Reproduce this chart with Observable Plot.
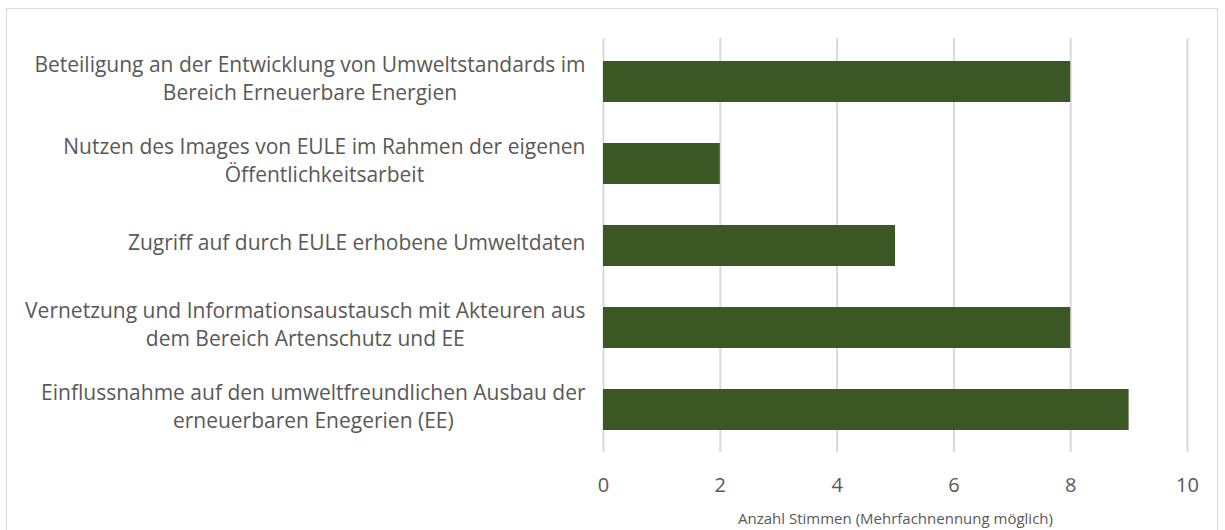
<!DOCTYPE html>
<html><head><meta charset="utf-8">
<script src="https://cdn.jsdelivr.net/npm/d3@7"></script>
<script src="https://cdn.jsdelivr.net/npm/@observablehq/plot@0.6"></script>
<style>
body{margin:0;background:#fff;}
#wrap{position:relative;width:1225px;height:530px;overflow:hidden;}
#border{position:absolute;left:6px;top:8px;width:1212px;height:560px;border:1px solid #d9d9d9;box-sizing:border-box;pointer-events:none;}
</style></head><body><div id="wrap"><div id="border"></div></div>
<script>
const categories = [
  "Beteiligung an der Entwicklung von Umweltstandards im\nBereich Erneuerbare Energien",
  "Nutzen des Images von EULE im Rahmen der eigenen\nÖffentlichkeitsarbeit",
  "Zugriff auf durch EULE erhobene Umweltdaten",
  "Vernetzung und Informationsaustausch mit Akteuren aus\ndem Bereich Artenschutz und EE",
  "Einflussnahme auf den umweltfreundlichen Ausbau der\nerneuerbaren Enegerien (EE)"
];
const values = [8, 2, 5, 8, 9];
const xTicks = [0, 2, 4, 6, 8, 10];
const xLabel = "Anzahl Stimmen (Mehrfachnennung möglich)";

const data = categories.map((c, i) => ({category: c, value: values[i]}));

const chart = Plot.plot({
  width: 1225, height: 530,
  marginLeft: 603, marginRight: 38, marginTop: 38, marginBottom: 78,
  style: {fontFamily: "'Open Sans', sans-serif", color: "#595959", background: "transparent"},
  x: {domain: [0, 10]},
  y: {domain: categories, paddingInner: 0.5, paddingOuter: 0.25},
  marks: [
    Plot.gridX(xTicks, {stroke: "#d9d9d9", strokeOpacity: 1, strokeWidth: 2}),
    Plot.barX(data, {x: "value", y: "category", fill: "#3a5724"}),
    Plot.axisX({ticks: xTicks, tickSize: 0, tickPadding: 25, fontSize: 20, label: xLabel, labelAnchor: "center", labelArrow: "none", labelOffset: 71}),
    Plot.axisY({tickSize: 0, tickPadding: 18, dy: -5, fontSize: 21, lineHeight: 1.33, label: null})
  ]
});
document.getElementById("wrap").appendChild(chart);
d3.select(chart).selectAll('g[aria-label="x-axis label"] text').style("font-size", "15px");
d3.select(chart).selectAll('g[aria-label="y-axis tick label"] text').each(function() {
  const tspans = this.querySelectorAll("tspan");
  if (!tspans.length) return;
  let maxW = 0;
  tspans.forEach(t => { maxW = Math.max(maxW, t.getComputedTextLength()); });
  this.setAttribute("text-anchor", "middle");
  tspans.forEach(t => t.setAttribute("x", -maxW / 2));
});
</script></body></html>
